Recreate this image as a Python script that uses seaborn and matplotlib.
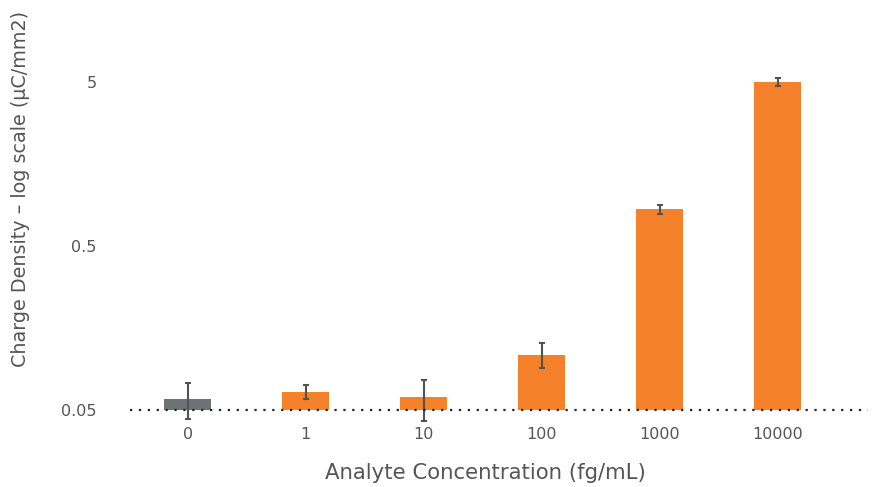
import matplotlib
matplotlib.use("Agg")
import matplotlib.pyplot as plt
import seaborn as sns
import pandas as pd

categories = ["0", "1", "10", "100", "1000", "10000"]
values = [0.0587, 0.0646, 0.0596, 0.1086, 0.835, 4.985]
errors = [0.0146, 0.0060, 0.0168, 0.0190, 0.049, 0.29]
bar_colors = ["#6E7273", "#F5822A", "#F5822A", "#F5822A", "#F5822A", "#F5822A"]
ytick_values = [0.05, 0.5, 5]
ytick_labels = ["0.05", "0.5", "5"]

sns.set_style("white")
plt.rcParams["font.family"] = ["DejaVu Sans"]

df = pd.DataFrame({"conc": categories, "density": values})

fig = plt.figure(figsize=(8.72, 4.87), dpi=100)
W, H = 872, 487
left_px, right_px, top_px, bottom_px = 130, 868, 58, 410
ax = fig.add_axes([left_px / W, 1 - bottom_px / H,
                   (right_px - left_px) / W, (bottom_px - top_px) / H])

sns.barplot(data=df, x="conc", y="density", hue="conc", palette=bar_colors,
            order=categories, width=0.4, legend=False, ax=ax, errorbar=None,
            saturation=1, linewidth=0)
ax.set_yscale("log")
ax.set_ylim(0.05, 7)
ax.set_xlim(-0.489, 5.765)

ax.errorbar(range(len(categories)), values, yerr=errors, fmt="none",
            ecolor="#4F5354", elinewidth=1.5, capsize=2.4, capthick=1.5,
            clip_on=False, zorder=5)

ax.axhline(0.05, color="#222222", linestyle=(0, (1, 3)), linewidth=1.6,
           clip_on=False, zorder=6)

for s in ax.spines.values():
    s.set_visible(False)

ax.set_yticks(ytick_values)
ax.set_yticklabels(ytick_labels)
ax.yaxis.set_minor_locator(matplotlib.ticker.NullLocator())
ax.tick_params(axis="y", length=0, pad=24, labelsize=11.5, labelcolor="#555555")
ax.tick_params(axis="x", length=0, pad=12, labelsize=11.5, labelcolor="#555555")

ax.set_xlabel("Analyte Concentration (fg/mL)", fontsize=15.3, color="#555555", va="center")
ax.xaxis.set_label_coords(0.481, -0.179)
ax.set_ylabel("Charge Density – log scale (µC/mm2)", fontsize=13.8, color="#555555", va="center")
ax.yaxis.set_label_coords(-0.149, 0.628)

fig.savefig("out.png", dpi=100)
